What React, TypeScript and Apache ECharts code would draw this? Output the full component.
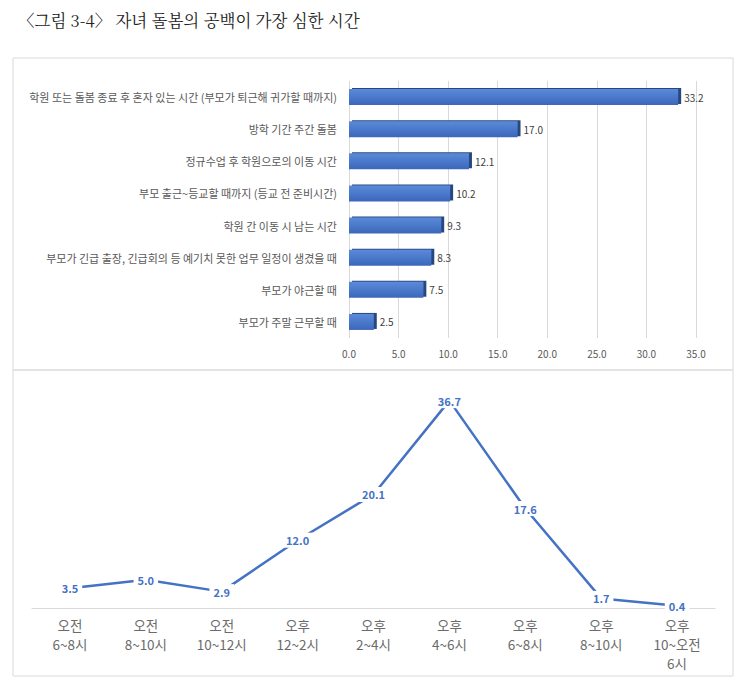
import { useEffect, useRef } from 'react';
import * as echarts from 'echarts';

// 돌봄 공백 유형 (위 막대그래프)
const gapTypes = [
  '학원 또는 돌봄 종료 후 혼자 있는 시간 (부모가 퇴근해 귀가할 때까지)',
  '방학 기간 주간 돌봄',
  '정규수업 후 학원으로의 이동 시간',
  '부모 출근~등교할 때까지 (등교 전 준비시간)',
  '학원 간 이동 시 남는 시간',
  '부모가 긴급 출장, 긴급회의 등 예기치 못한 업무 일정이 생겼을 때',
  '부모가 야근할 때',
  '부모가 주말 근무할 때',
];
const gapValues = [33.2, 17.0, 12.1, 10.2, 9.3, 8.3, 7.5, 2.5];

// 시간대별 (아래 꺾은선그래프)
const timeSlots = [
  '오전\n6~8시',
  '오전\n8~10시',
  '오전\n10~12시',
  '오후\n12~2시',
  '오후\n2~4시',
  '오후\n4~6시',
  '오후\n6~8시',
  '오후\n8~10시',
  '오후\n10~오전\n6시',
];
const slotValues = [3.5, 5.0, 2.9, 12.0, 20.1, 36.7, 17.6, 1.7, 0.4];

const FONT = '"Noto Sans CJK KR", "Noto Sans", sans-serif';
const BLUE = '#4472c4';

export default function App() {
  const chartRef = useRef<HTMLDivElement>(null);

  useEffect(() => {
    document.body.style.margin = '0';
    if (!chartRef.current) return;
    const chart = echarts.init(chartRef.current, undefined, { renderer: 'svg' });

    const option: echarts.EChartsOption = {
      animation: false,
      backgroundColor: '#ffffff',
      textStyle: { fontFamily: FONT },
      title: {
        text: '〈그림 3-4〉 자녀 돌봄의 공백이 가장 심한 시간',
        left: 13,
        top: 7,
        textStyle: {
          fontFamily: '"Noto Serif CJK KR", serif, "Noto Sans CJK KR"',
          fontSize: 16.5,
          fontWeight: 'normal',
          color: '#222222',
        },
      },
      graphic: [
        {
          type: 'rect',
          shape: { x: 13, y: 58, width: 720, height: 618 },
          style: { fill: 'none', stroke: '#d9d9d9', lineWidth: 1 },
          silent: true,
        },
        {
          type: 'line',
          shape: { x1: 13, y1: 370, x2: 733, y2: 370 },
          style: { stroke: '#e3e3e3', lineWidth: 2 },
          silent: true,
        },
      ],
      grid: [
        { left: 349, top: 81, width: 347, height: 257 },
        { left: 32, top: 382, width: 683, height: 226 },
      ],
      xAxis: [
        {
          type: 'value',
          gridIndex: 0,
          min: 0,
          max: 35,
          interval: 5,
          axisLine: { show: false },
          axisTick: { show: false },
          splitLine: { lineStyle: { color: '#d9d9d9' } },
          axisLabel: {
            color: '#595959',
            fontSize: 10,
            margin: 10,
            formatter: (v: number) => v.toFixed(1),
          },
        },
        {
          type: 'category',
          gridIndex: 1,
          data: timeSlots,
          axisLine: { lineStyle: { color: '#d9d9d9' } },
          axisTick: { show: false },
          axisLabel: {
            color: '#6b6b6b',
            fontSize: 13.5,
            lineHeight: 19,
            margin: 7,
            interval: 0,
          },
        },
      ],
      yAxis: [
        {
          type: 'category',
          gridIndex: 0,
          data: gapTypes,
          inverse: true,
          axisLine: { show: false },
          axisTick: { show: false },
          axisLabel: { color: '#595959', fontSize: 11, margin: 12 },
        },
        {
          type: 'value',
          gridIndex: 1,
          min: 0,
          max: 40,
          show: false,
        },
      ],
      series: [
        {
          type: 'bar',
          xAxisIndex: 0,
          yAxisIndex: 0,
          data: gapValues,
          barWidth: 16,
          itemStyle: {
            color: new echarts.graphic.LinearGradient(0, 0, 0, 1, [
              { offset: 0, color: '#5b8ad9' },
              { offset: 1, color: '#3b67bb' },
            ]),
            shadowColor: '#28467f',
            shadowOffsetX: 3,
            shadowOffsetY: -1,
            shadowBlur: 0,
          },
          label: {
            show: true,
            position: 'right',
            distance: 6,
            color: '#404040',
            fontSize: 10,
            formatter: (p: any) => Number(p.value).toFixed(1),
          },
        },
        {
          type: 'line',
          xAxisIndex: 1,
          yAxisIndex: 1,
          data: slotValues,
          symbol: 'circle',
          symbolSize: 1,
          itemStyle: { color: BLUE },
          lineStyle: { color: BLUE, width: 2.5 },
          label: {
            show: true,
            position: 'inside',
            color: BLUE,
            fontSize: 11,
            fontWeight: 'bold',
            backgroundColor: '#ffffff',
            padding: [2, 4],
            formatter: (p: any) => Number(p.value).toFixed(1),
          },
          z: 3,
        },
      ],
    };

    chart.setOption(option);
    return () => {
      chart.dispose();
    };
  }, []);

  return <div ref={chartRef} style={{ width: 745, height: 685 }} />;
}
